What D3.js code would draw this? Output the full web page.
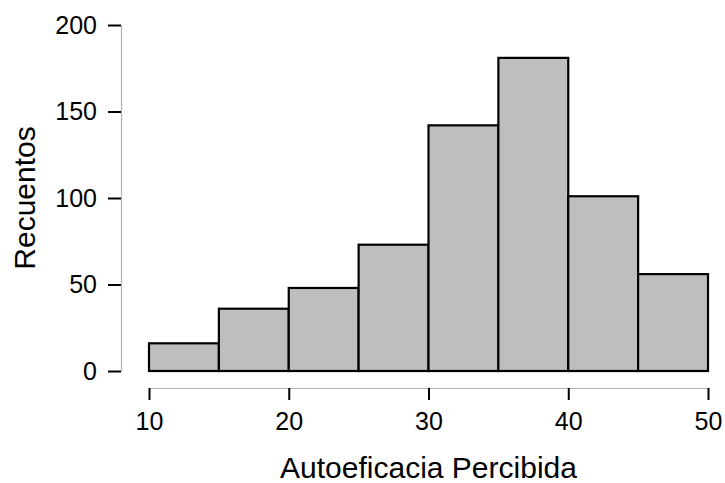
<!DOCTYPE html>
<html>
<head>
<meta charset="utf-8">
<script src="https://cdn.jsdelivr.net/npm/d3@7"></script>
<style>
	body { margin: 0; background: #fff; }
	svg { display: block; font-family: "Liberation Sans", Arial, sans-serif; }
</style>
</head>
<body>
<div id="chart"></div>
<script>
'use strict';

// histogram bins (lower edges) and counts
const binStarts = [10, 15, 20, 25, 30, 35, 40, 45];
const binWidth = 5;
const counts = [16, 36, 48, 73, 142, 181, 101, 56];

const xTicks = [10, 20, 30, 40, 50];
const yTicks = [0, 50, 100, 150, 200];

const xTitle = 'Autoeficacia Percibida';
const yTitle = 'Recuentos';

const W = 725, H = 483;

let svg = d3.select('#chart')
	.append('svg')
		.attr('width', W)
		.attr('height', H)
	;

let x = d3.scaleLinear().domain([10, 50]).range([149, 708]);
let y = d3.scaleLinear().domain([0, 200]).range([371, 25]);

// bars
svg.append('g')
	.selectAll('rect')
	.data(binStarts)
	.join('rect')
		.attr('x', (d) => x(d))
		.attr('y', (d, i) => y(counts[i]))
		.attr('width', (d) => x(d + binWidth) - x(d))
		.attr('height', (d, i) => y(0) - y(counts[i]))
		.attr('fill', '#bebebe')
		.attr('stroke', '#000')
		.attr('stroke-width', 2.2)
	;

// y axis
let ya = svg.append('g')
	.attr('transform', 'translate(121,0)')
	.call(d3.axisLeft(y).tickValues(yTicks).tickSize(13).tickPadding(11).tickSizeOuter(0))
	;
// x axis
let xa = svg.append('g')
	.attr('transform', 'translate(0,388)')
	.call(d3.axisBottom(x).tickValues(xTicks).tickSize(12).tickPadding(12).tickSizeOuter(0))
	;

for (let a of [ya, xa]) {
	a.select('.domain').attr('stroke', '#b4b4b4').attr('stroke-width', 1.2);
	a.selectAll('.tick line').attr('stroke', '#000').attr('stroke-width', 2);
	a.selectAll('.tick text')
		.attr('fill', '#000')
		.style('font-size', '25px')
		.style('font-family', '"Liberation Sans", Arial, sans-serif')
		;
}

// titles
svg.append('text')
	.attr('x', x(30))
	.attr('y', 478)
	.attr('text-anchor', 'middle')
	.style('font-size', '30px')
	.text(xTitle)
	;

svg.append('text')
	.attr('transform', 'translate(35,' + y(100) + ') rotate(-90)')
	.attr('text-anchor', 'middle')
	.style('font-size', '30px')
	.text(yTitle)
	;
</script>
</body>
</html>
